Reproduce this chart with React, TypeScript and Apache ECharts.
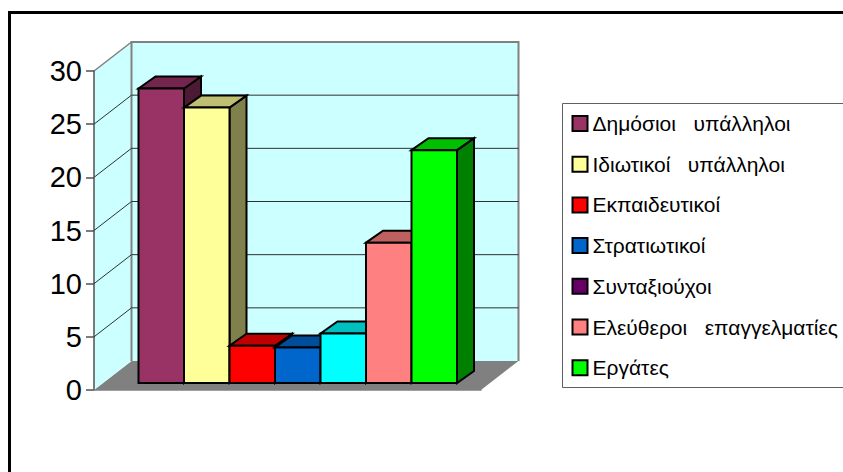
import React, { useEffect, useRef } from "react";
import * as echarts from "echarts";

const categories = [""];
const seriesNames = [
  "Δημόσιοι   υπάλληλοι",
  "Ιδιωτικοί   υπάλληλοι",
  "Εκπαιδευτικοί",
  "Στρατιωτικοί",
  "Συνταξιούχοι",
  "Ελεύθεροι   επαγγελματίες",
  "Εργάτες",
];
const seriesValues = [27.7, 25.9, 3.5, 3.35, 4.65, 13.2, 21.9];
const legendColors = ["#993366", "#FFFF99", "#FF0000", "#0066CC", "#660066", "#FF8080", "#00FF00"];
const frontColors = ["#993366", "#FFFF99", "#FF0000", "#0066CC", "#00FFFF", "#FF8080", "#00FF00"];
const topColors = ["#73264D", "#BFBF73", "#BF0000", "#004D99", "#00BFBF", "#BF6060", "#00BF00"];
const sideColors = ["#4D1A33", "#80804D", "#800000", "#003366", "#008080", "#804040", "#008000"];
const gridValues = [5, 10, 15, 20, 25];

const WALL_DX = 37.5;
const WALL_DY = -29;
const BAR_DX = 17;
const BAR_DY = -12;
const BAR_W = 45.5;
const BAR_LEFT = 44.5;
const BAR_BASE_UP = 7;

const wallsItem = (params: any, api: any) => {
  const c = params.coordSys;
  const y0 = api.coord([0, 0])[1];
  const y30 = api.coord([0, 30])[1];
  const l = c.x;
  const r = c.x + c.width;
  const poly = (pts: number[][], fill: string, stroke?: string, lw = 1) => ({
    type: "polygon",
    shape: { points: pts },
    style: { fill, stroke: stroke || "none", lineWidth: lw },
  });
  return {
    type: "group",
    children: [
      poly([[l, y0], [l + WALL_DX, y0 + WALL_DY], [r + WALL_DX, y0 + WALL_DY], [r, y0]], "#808080"),
      poly([[l, y0], [l, y30], [l + WALL_DX, y30 + WALL_DY], [l + WALL_DX, y0 + WALL_DY]], "#CCFFFF"),
      poly(
        [[l + WALL_DX, y0 + WALL_DY], [l + WALL_DX, y30 + WALL_DY], [r + WALL_DX, y30 + WALL_DY], [r + WALL_DX, y0 + WALL_DY]],
        "#CCFFFF"
      ),
      { type: "polyline", shape: { points: [[l + WALL_DX, y0 + WALL_DY], [l + WALL_DX, y30 + WALL_DY], [r + WALL_DX, y30 + WALL_DY], [r + WALL_DX, y0 + WALL_DY]] }, style: { fill: "none", stroke: "#808080", lineWidth: 2 } },
      { type: "line", shape: { x1: l, y1: y30, x2: l + WALL_DX, y2: y30 + WALL_DY }, style: { stroke: "#808080", lineWidth: 1.5 } },
    ],
  };
};

const gridItem = (params: any, api: any) => {
  const c = params.coordSys;
  const y = api.coord([0, api.value(1)])[1];
  const l = c.x;
  const r = c.x + c.width;
  return {
    type: "polyline",
    shape: { points: [[l, y], [l + WALL_DX, y + WALL_DY], [r + WALL_DX, y + WALL_DY]] },
    style: { fill: "none", stroke: "#303030", lineWidth: 1 },
  };
};

const barItem = (i: number) => (params: any, api: any) => {
  const c = params.coordSys;
  const x0 = c.x + BAR_LEFT + i * BAR_W;
  const x1 = x0 + BAR_W;
  const yb = api.coord([0, 0])[1] - BAR_BASE_UP;
  const yt = api.coord([0, api.value(1)])[1] - BAR_BASE_UP;
  const face = (pts: number[][], fill: string) => ({
    type: "polygon",
    shape: { points: pts },
    style: { fill, stroke: "#000", lineWidth: 2, lineJoin: "miter" },
  });
  return {
    type: "group",
    children: [
      face([[x1, yb], [x1, yt], [x1 + BAR_DX, yt + BAR_DY], [x1 + BAR_DX, yb + BAR_DY]], sideColors[i]),
      face([[x0, yt], [x0 + BAR_DX, yt + BAR_DY], [x1 + BAR_DX, yt + BAR_DY], [x1, yt]], topColors[i]),
      face([[x0, yb], [x0, yt], [x1, yt], [x1, yb]], frontColors[i]),
    ],
  };
};

export default function App() {
  const ref = useRef<HTMLDivElement>(null);
  useEffect(() => {
    const chart = echarts.init(ref.current!, undefined, { renderer: "svg", width: 843, height: 472 });
    chart.setOption({
      animation: false,
      backgroundColor: "#fff",
      grid: { left: 94, right: 362, top: 71, bottom: 82 },
      xAxis: {
        type: "category",
        data: categories,
        axisLine: { show: true, lineStyle: { color: "#808080", width: 1.5 } },
        axisTick: { show: false },
        axisLabel: { show: false },
        z: 1,
      },
      yAxis: {
        type: "value",
        min: 0,
        max: 30,
        interval: 5,
        axisLine: { show: true, lineStyle: { color: "#505050", width: 1.5 } },
        axisTick: { show: true, length: 8, lineStyle: { color: "#505050", width: 1.5 } },
        axisLabel: { color: "#000", fontFamily: "Liberation Sans", fontSize: 29, margin: 12 },
        splitLine: { show: false },
      },
      legend: {
        orient: "vertical",
        left: 571.5,
        top: 113,
        padding: 0,
        itemWidth: 15,
        itemHeight: 15,
        itemGap: 19.7,
        selectedMode: false,
        textStyle: { color: "#000", fontFamily: "Liberation Sans", fontSize: 21 },
        data: seriesNames.map((name, i) => ({
          name,
          icon: "rect",
          itemStyle: { color: legendColors[i], borderColor: "#000", borderWidth: 2 },
        })),
      },
      graphic: [
        {
          type: "polyline",
          shape: { points: [[9.5, 472], [9.5, 12.5], [843, 12.5]] },
          style: { fill: "none", stroke: "#000", lineWidth: 3 },
        },
        {
          type: "rect",
          shape: { x: 562.5, y: 103.5, width: 300, height: 284 },
          style: { fill: "none", stroke: "#606060", lineWidth: 1 },
        },
      ],
      series: [
        {
          type: "custom",
          name: "walls",
          renderItem: wallsItem,
          data: [[0, 0]],
          encode: { x: 0, y: 1 },
          clip: false,
          silent: true,
          z: 0,
        },
        {
          type: "custom",
          name: "gridlines",
          renderItem: gridItem,
          data: gridValues.map((v) => [0, v]),
          encode: { x: 0, y: 1 },
          clip: false,
          silent: true,
          z: 1,
        },
        ...seriesNames.map((name, i) => ({
          type: "custom",
          name,
          renderItem: barItem(i),
          data: [[0, seriesValues[i]]],
          encode: { x: 0, y: 1 },
          clip: false,
          z: 3 + i,
          itemStyle: { color: legendColors[i] },
        })),
      ],
    });
    return () => chart.dispose();
  }, []);
  return <div ref={ref} style={{ position: "fixed", left: 0, top: 0, width: 843, height: 472 }} />;
}
